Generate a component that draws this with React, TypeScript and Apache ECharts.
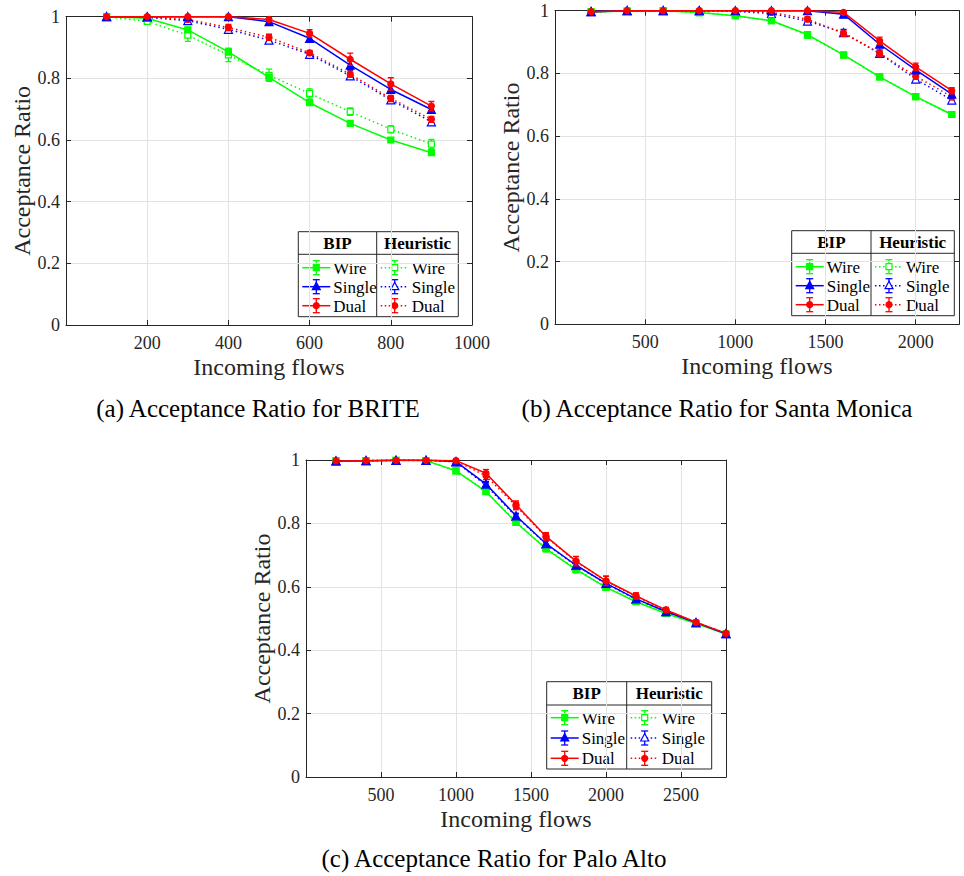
import React, { useEffect, useRef } from "react";
import * as echarts from "echarts";

// ---------- Panel (a) BRITE ----------
const aFlows = [100, 200, 300, 400, 500, 600, 700, 800, 900];
const aBipWire = [1, 0.995, 0.957, 0.886, 0.803, 0.721, 0.654, 0.6, 0.559];
const aBipSingle = [1, 1, 1, 1, 0.984, 0.93, 0.843, 0.764, 0.699];
const aBipDual = [1, 1, 1, 1, 0.991, 0.946, 0.862, 0.782, 0.71];
const aHeuWire = [1, 0.985, 0.94, 0.876, 0.81, 0.751, 0.692, 0.635, 0.587];
const aHeuSingle = [1, 0.998, 0.987, 0.959, 0.924, 0.878, 0.808, 0.73, 0.659];
const aHeuDual = [1, 0.999, 0.991, 0.965, 0.933, 0.883, 0.814, 0.735, 0.667];
const aErrBipWire = [0, 0.003, 0.008, 0.01, 0.01, 0.008, 0.008, 0.006, 0.008];
const aErrBipSingle = [0, 0, 0, 0, 0.005, 0.01, 0.015, 0.012, 0.01];
const aErrBipDual = [0, 0, 0, 0, 0.005, 0.012, 0.02, 0.02, 0.015];
const aErrHeuWire = [0, 0.006, 0.02, 0.022, 0.02, 0.015, 0.012, 0.012, 0.015];
const aErrHeuSingle = [0, 0, 0.008, 0.01, 0.01, 0.008, 0.01, 0.01, 0.01];
const aErrHeuDual = [0, 0, 0.008, 0.01, 0.01, 0.008, 0.01, 0.01, 0.01];

// ---------- Panel (b) Santa Monica ----------
const bFlows = [200, 400, 600, 800, 1000, 1200, 1400, 1600, 1800, 2000, 2200];
const bBipWire = [0.996, 0.999, 1, 0.994, 0.984, 0.968, 0.924, 0.859, 0.789, 0.726, 0.669];
const bBipSingle = [0.997, 1, 1, 1, 1, 1, 1, 0.989, 0.893, 0.811, 0.734];
const bBipDual = [0.997, 1, 1, 1, 1, 1, 1, 0.995, 0.904, 0.821, 0.745];
const bHeuWire = [0.996, 0.999, 1, 0.994, 0.984, 0.968, 0.922, 0.858, 0.789, 0.726, 0.669];
const bHeuSingle = [0.997, 1, 1, 1, 0.998, 0.991, 0.967, 0.93, 0.864, 0.782, 0.715];
const bHeuDual = [0.997, 1, 1, 1, 0.999, 0.995, 0.973, 0.928, 0.864, 0.791, 0.726];
const bErrBipWire = [0, 0, 0, 0, 0.003, 0.004, 0.008, 0.004, 0.004, 0.004, 0.005];
const bErrBipSingle = [0, 0, 0, 0, 0, 0, 0, 0.006, 0.01, 0.01, 0.008];
const bErrBipDual = [0, 0, 0, 0, 0, 0, 0, 0.005, 0.012, 0.012, 0.01];
const bErrHeuWire = [0, 0, 0, 0, 0.003, 0.004, 0.01, 0.005, 0.004, 0.004, 0.005];
const bErrHeuSingle = [0, 0, 0, 0, 0.003, 0.005, 0.008, 0.01, 0.01, 0.01, 0.01];
const bErrHeuDual = [0, 0, 0, 0, 0.003, 0.005, 0.008, 0.01, 0.01, 0.01, 0.01];

// ---------- Panel (c) Palo Alto ----------
const cFlows = [200, 400, 600, 800, 1000, 1200, 1400, 1600, 1800, 2000, 2200, 2400, 2600, 2800];
const cBipWire = [0.997, 0.998, 0.999, 0.998, 0.966, 0.9, 0.803, 0.72, 0.654, 0.598, 0.553, 0.516, 0.484, 0.451];
const cBipSingle = [0.997, 0.998, 0.999, 0.999, 0.995, 0.924, 0.824, 0.736, 0.668, 0.611, 0.562, 0.522, 0.487, 0.452];
const cBipDual = [0.997, 0.998, 0.999, 0.999, 0.998, 0.958, 0.859, 0.759, 0.681, 0.619, 0.571, 0.527, 0.488, 0.453];
const cHeuWire = [0.997, 0.998, 0.999, 0.998, 0.966, 0.902, 0.805, 0.722, 0.656, 0.6, 0.555, 0.518, 0.485, 0.451];
const cHeuSingle = [0.997, 0.998, 0.999, 0.999, 0.994, 0.92, 0.822, 0.735, 0.667, 0.61, 0.561, 0.522, 0.487, 0.452];
const cHeuDual = [0.997, 0.998, 0.999, 0.999, 0.997, 0.95, 0.855, 0.757, 0.68, 0.618, 0.57, 0.526, 0.488, 0.453];
const cErrBip = [0, 0, 0, 0, 0.003, 0.008, 0.008, 0.01, 0.01, 0.008, 0.008, 0.006, 0.006, 0.005];
const cErrDual = [0, 0, 0, 0, 0.003, 0.012, 0.012, 0.012, 0.015, 0.015, 0.01, 0.008, 0.006, 0.006];

// ---------- Text ----------
const yAxisTitle = "Acceptance Ratio";
const xAxisTitle = "Incoming flows";
const captions = [
  "(a) Acceptance Ratio for BRITE",
  "(b) Acceptance Ratio for Santa Monica",
  "(c) Acceptance Ratio for Palo Alto",
];
const legendHeaders = ["BIP", "Heuristic"];
const legendRows = ["Wire", "Single", "Dual"];

const GREEN = "#00ff00";
const BLUE = "#0000ff";
const RED = "#ff0000";
const AXIS = "#262626";
const GRIDC = "#e2e2e2";
const FONT = "Liberation Serif";

type Panel = {
  flows: number[];
  max: number;
  interval: number;
  grid: { left: number; top: number; width: number; height: number };
  sets: { y: number[]; e: number[]; color: string; dotted: boolean; kind: number }[];
};

const panels: Panel[] = [
  {
    flows: aFlows, max: 1000, interval: 200,
    grid: { left: 66, top: 16.7, width: 406, height: 308.3 },
    sets: [
      { y: aHeuWire, e: aErrHeuWire, color: GREEN, dotted: true, kind: 0 },
      { y: aHeuSingle, e: aErrHeuSingle, color: BLUE, dotted: true, kind: 1 },
      { y: aHeuDual, e: aErrHeuDual, color: RED, dotted: true, kind: 2 },
      { y: aBipWire, e: aErrBipWire, color: GREEN, dotted: false, kind: 0 },
      { y: aBipSingle, e: aErrBipSingle, color: BLUE, dotted: false, kind: 1 },
      { y: aBipDual, e: aErrBipDual, color: RED, dotted: false, kind: 2 },
    ],
  },
  {
    flows: bFlows, max: 2240, interval: 500,
    grid: { left: 555, top: 10.7, width: 404, height: 313.6 },
    sets: [
      { y: bHeuWire, e: bErrHeuWire, color: GREEN, dotted: true, kind: 0 },
      { y: bHeuSingle, e: bErrHeuSingle, color: BLUE, dotted: true, kind: 1 },
      { y: bHeuDual, e: bErrHeuDual, color: RED, dotted: true, kind: 2 },
      { y: bBipWire, e: bErrBipWire, color: GREEN, dotted: false, kind: 0 },
      { y: bBipSingle, e: bErrBipSingle, color: BLUE, dotted: false, kind: 1 },
      { y: bBipDual, e: bErrBipDual, color: RED, dotted: false, kind: 2 },
    ],
  },
  {
    flows: cFlows, max: 2800, interval: 500,
    grid: { left: 306, top: 460, width: 420, height: 317 },
    sets: [
      { y: cHeuWire, e: cErrBip, color: GREEN, dotted: true, kind: 0 },
      { y: cHeuSingle, e: cErrBip, color: BLUE, dotted: true, kind: 1 },
      { y: cHeuDual, e: cErrDual, color: RED, dotted: true, kind: 2 },
      { y: cBipWire, e: cErrBip, color: GREEN, dotted: false, kind: 0 },
      { y: cBipSingle, e: cErrBip, color: BLUE, dotted: false, kind: 1 },
      { y: cBipDual, e: cErrDual, color: RED, dotted: false, kind: 2 },
    ],
  },
];

const legendBoxes = [
  { left: 298.3, top: 231.7, right: 458.3, bottom: 316.7, divider: 376.7, header: 254.3, rows: [267.7, 286.7, 305.7] },
  { left: 791.7, top: 230.7, right: 954.3, bottom: 315.7, divider: 871, header: 253.3, rows: [266.7, 285.7, 304.7] },
  { left: 546.7, top: 681.7, right: 711.7, bottom: 769, divider: 626.7, header: 705, rows: [717.7, 738, 758.3] },
];

const captionPos = [
  { x: 258, y: 408 },
  { x: 717, y: 408 },
  { x: 494, y: 858 },
];

const SYMBOLS = ["rect", "triangle", "circle"];
const SIZES = [6, 8, 6];

function txt(text: string, x: number, y: number, size: number, align: string, bold = false) {
  return {
    text, x, y,
    font: `${bold ? "bold " : ""}${size}px ${FONT}`,
    fontFamily: FONT, fontSize: size, fontWeight: bold ? "bold" : "normal",
    fill: "#000",
    textAlign: align, textVerticalAlign: "middle", align, verticalAlign: "middle",
  };
}

function buildOption() {
  const grid: any[] = [];
  const xAxis: any[] = [];
  const yAxis: any[] = [];
  const series: any[] = [];
  const graphic: any[] = [];

  panels.forEach((p, i) => {
    grid.push({ ...p.grid, containLabel: false });
    const tick = { show: true, inside: true, length: 5, lineStyle: { color: AXIS, width: 1 } };
    const line = { show: true, onZero: false, lineStyle: { color: AXIS, width: 1 } };
    xAxis.push({
      type: "value", gridIndex: i, position: "bottom", min: 0, max: p.max, interval: p.interval,
      axisLine: line, axisTick: tick,
      axisLabel: {
        color: AXIS, fontFamily: FONT, fontSize: 18, margin: 9, showMinLabel: false,
        showMaxLabel: p.max % p.interval === 0, formatter: (v: number) => String(v),
      },
      splitLine: { show: true, lineStyle: { color: GRIDC, width: 1 } },
      name: xAxisTitle, nameLocation: "middle", nameGap: 30,
      nameTextStyle: { color: AXIS, fontFamily: FONT, fontSize: 24 },
    });
    xAxis.push({
      type: "value", gridIndex: i, position: "top", min: 0, max: p.max, interval: p.interval,
      axisLine: line, axisTick: tick, axisLabel: { show: false }, splitLine: { show: false },
    });
    yAxis.push({
      type: "value", gridIndex: i, position: "left", min: 0, max: 1, interval: 0.2,
      axisLine: line, axisTick: tick,
      axisLabel: { color: AXIS, fontFamily: FONT, fontSize: 18, margin: 6, formatter: (v: number) => String(Math.round(v * 10) / 10) },
      splitLine: { show: true, lineStyle: { color: GRIDC, width: 1 } },
      name: yAxisTitle, nameLocation: "middle", nameGap: 31,
      nameTextStyle: { color: AXIS, fontFamily: FONT, fontSize: 24 },
    });
    yAxis.push({
      type: "value", gridIndex: i, position: "right", min: 0, max: 1, interval: 0.2,
      axisLine: line, axisTick: tick, axisLabel: { show: false }, splitLine: { show: false },
    });

    p.sets.forEach((s, k) => {
      const hollow = s.dotted && s.kind !== 2;
      series.push({
        type: "line",
        xAxisIndex: i * 2, yAxisIndex: i * 2,
        data: p.flows.map((x, j) => [x, s.y[j]]),
        symbol: SYMBOLS[s.kind], symbolSize: SIZES[s.kind], showSymbol: true,
        itemStyle: { color: hollow ? "#ffffff" : s.color, borderColor: s.color, borderWidth: 1.2 },
        lineStyle: { color: s.color, width: 1.5, type: s.dotted ? [1.5, 3] : "solid" },
        z: 3 + k, clip: true, silent: true,
      });
      series.push({
        type: "custom",
        xAxisIndex: i * 2, yAxisIndex: i * 2,
        data: p.flows.map((x, j) => [x, s.y[j], s.e[j]]),
        clip: true, z: 3 + k, silent: true,
        renderItem: (params: any, api: any) => {
          const x = api.value(0), y = api.value(1), e = api.value(2);
          if (!e) return { type: "group", children: [] };
          const t = api.coord([x, y + e]);
          const b = api.coord([x, y - e]);
          const st = { stroke: s.color, lineWidth: 1.3 };
          return {
            type: "group",
            children: [
              { type: "line", shape: { x1: t[0], y1: t[1], x2: b[0], y2: b[1] }, style: st },
              { type: "line", shape: { x1: t[0] - 3, y1: t[1], x2: t[0] + 3, y2: t[1] }, style: st },
              { type: "line", shape: { x1: b[0] - 3, y1: b[1], x2: b[0] + 3, y2: b[1] }, style: st },
            ],
          };
        },
      });
    });
  });

  // legends
  const colors = [GREEN, BLUE, RED];
  legendBoxes.forEach((L) => {
    const ch: any[] = [];
    const bs = { stroke: AXIS, lineWidth: 1, fill: "none" };
    ch.push({ type: "rect", shape: { x: L.left, y: L.top, width: L.right - L.left, height: L.bottom - L.top }, style: { fill: "#fff", stroke: AXIS, lineWidth: 1 } });
    ch.push({ type: "line", shape: { x1: L.left, y1: L.header, x2: L.right, y2: L.header }, style: bs });
    ch.push({ type: "line", shape: { x1: L.divider, y1: L.top, x2: L.divider, y2: L.bottom }, style: bs });
    const cols = [L.left, L.divider];
    const colEnds = [L.divider, L.right];
    cols.forEach((cx0, ci) => {
      ch.push({ type: "text", style: txt(legendHeaders[ci], (cx0 + colEnds[ci]) / 2, (L.top + L.header) / 2 + 0.5, 17, "center", true) });
      legendRows.forEach((r, ri) => {
        const y = L.rows[ri];
        const x1 = cx0 + 4, x2 = cx0 + 32, mx = cx0 + 18;
        const c = colors[ri];
        const ls: any = { stroke: c, lineWidth: 1.5 };
        if (ci === 1) ls.lineDash = [1.5, 2.5];
        ch.push({ type: "line", shape: { x1, y1: y, x2, y2: y }, style: ls });
        const es = { stroke: c, lineWidth: 1.3 };
        ch.push({ type: "line", shape: { x1: mx, y1: y - 7, x2: mx, y2: y + 7 }, style: es });
        ch.push({ type: "line", shape: { x1: mx - 3.5, y1: y - 7, x2: mx + 3.5, y2: y - 7 }, style: es });
        ch.push({ type: "line", shape: { x1: mx - 3.5, y1: y + 7, x2: mx + 3.5, y2: y + 7 }, style: es });
        const hollow = ci === 1 && ri !== 2;
        const ms = { fill: hollow ? "#fff" : c, stroke: c, lineWidth: 1.2 };
        if (ri === 0) ch.push({ type: "rect", shape: { x: mx - 3, y: y - 3, width: 6, height: 6 }, style: ms });
        else if (ri === 1) ch.push({ type: "polygon", shape: { points: [[mx, y - 4.5], [mx - 4, y + 3], [mx + 4, y + 3]] }, style: ms });
        else ch.push({ type: "circle", shape: { cx: mx, cy: y, r: 3 }, style: ms });
        ch.push({ type: "text", style: txt(r, cx0 + 35, y + 0.5, 17, "left") });
      });
    });
    graphic.push({ type: "group", z: 100, children: ch });
  });

  captions.forEach((t, i) => {
    graphic.push({ type: "text", z: 100, style: txt(t, captionPos[i].x, captionPos[i].y, 25, "center") });
  });

  return { animation: false, backgroundColor: "#ffffff", grid, xAxis, yAxis, series, graphic };
}

export default function App() {
  const ref = useRef<HTMLDivElement>(null);
  useEffect(() => {
    if (!ref.current) return;
    const chart = echarts.init(ref.current, undefined, { renderer: "svg" });
    chart.setOption(buildOption() as any);
    return () => chart.dispose();
  }, []);
  return <div ref={ref} style={{ position: "absolute", left: 0, top: 0, width: 964, height: 876 }} />;
}
